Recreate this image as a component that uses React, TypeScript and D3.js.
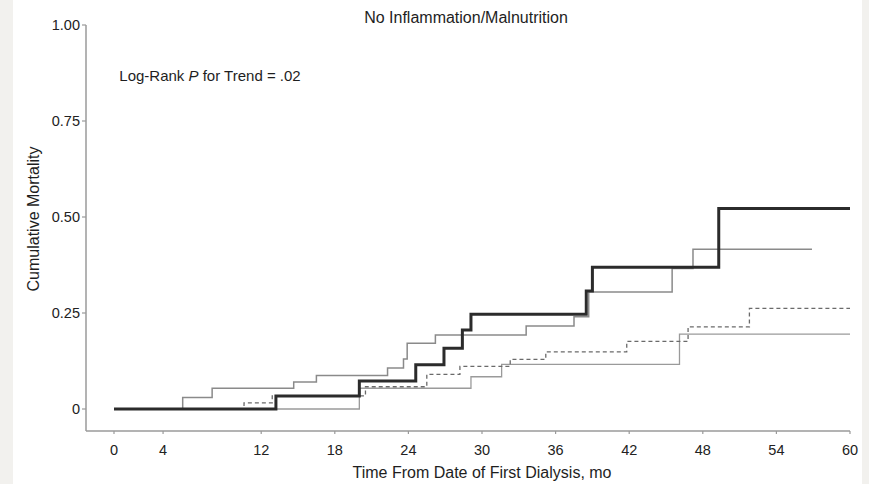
import React from "react";
import * as d3 from "d3";

const title = "No Inflammation/Malnutrition";
const annotation = ["Log-Rank ", "P", " for Trend = .02"];
const xTitle = "Time From Date of First Dialysis, mo";
const yTitle = "Cumulative Mortality";

const xTicks = [0, 4, 12, 18, 24, 30, 36, 42, 48, 54, 60];
const yTicks = [0, 0.25, 0.5, 0.75, 1.0];
const yTickLabels = ["0", "0.25", "0.50", "0.75", "1.00"];

// Step curves: event times (months) and cumulative mortality after each step
const blackTimes = [0, 13.2, 20.0, 24.6, 26.9, 28.4, 29.1, 38.5, 39.0, 49.3, 60];
const blackValues = [0, 0.034, 0.073, 0.115, 0.158, 0.206, 0.247, 0.307, 0.369, 0.522, 0.522];

const upperTimes = [0, 5.6, 8.0, 14.65, 16.5, 22.3, 23.6, 23.9, 26.2, 33.6, 37.5, 38.7, 45.5, 47.2, 56.9];
const upperValues = [0, 0.030, 0.054, 0.070, 0.087, 0.107, 0.13, 0.171, 0.193, 0.216, 0.240, 0.305, 0.366, 0.416, 0.416];

const dashedTimes = [0, 10.6, 12.9, 20.5, 25.5, 28.2, 32.3, 35.2, 41.8, 46.8, 51.8, 60];
const dashedValues = [0, 0.016, 0.034, 0.058, 0.090, 0.111, 0.129, 0.149, 0.176, 0.214, 0.262, 0.262];

const lowerTimes = [0, 20.0, 29.1, 31.6, 46.1, 60];
const lowerValues = [0, 0.054, 0.084, 0.116, 0.195, 0.195];

const FONT = "'Liberation Sans', Arial, Helvetica, sans-serif";

export default function App() {
  const W = 869, H = 484;
  const x = d3.scaleLinear().domain([0, 60]).range([114, 850]);
  const y = d3.scaleLinear().domain([0, 1]).range([409, 25]);
  const axisX = 86;
  const axisY = 431;

  const line = d3
    .line<[number, number]>()
    .x((d) => x(d[0]))
    .y((d) => y(d[1]))
    .curve(d3.curveStepAfter);

  const mk = (t: number[], v: number[]) => line(t.map((tt, i) => [tt, v[i]] as [number, number])) || "";

  const series = [
    { d: mk(lowerTimes, lowerValues), stroke: "#9a9a9a", width: 1.3, dash: undefined as string | undefined },
    { d: mk(dashedTimes, dashedValues), stroke: "#6a6a6a", width: 1.3, dash: "4,3" },
    { d: mk(upperTimes, upperValues), stroke: "#8a8a8a", width: 1.5, dash: undefined },
    { d: mk(blackTimes, blackValues), stroke: "#2b2b2b", width: 3, dash: undefined },
  ];

  return (
    <svg
      width={W}
      height={H}
      style={{ position: "absolute", left: 0, top: 0, display: "block" }}
      fontFamily={FONT}
    >
      <rect x={0} y={0} width={W} height={H} fill="#f2f1ee" />
      <rect x={13} y={0} width={849} height={H} fill="#ffffff" />

      {/* axes */}
      <line x1={axisX} y1={y(1)} x2={axisX} y2={axisY} stroke="#9a9a9a" strokeWidth={1.5} />
      <line x1={axisX} y1={axisY} x2={x(60)} y2={axisY} stroke="#9a9a9a" strokeWidth={1.5} />
      {yTicks.map((t, i) => (
        <g key={"yt" + i}>
          <line x1={axisX - 4} x2={axisX} y1={y(t)} y2={y(t)} stroke="#9a9a9a" strokeWidth={1.2} />
          <text x={80} y={y(t) + 5} textAnchor="end" fontSize={14.5} fill="#222">
            {yTickLabels[i]}
          </text>
        </g>
      ))}
      {xTicks.map((t, i) => (
        <g key={"xt" + i}>
          <line x1={x(t)} x2={x(t)} y1={axisY} y2={axisY + 3} stroke="#9a9a9a" strokeWidth={1.2} />
          <text x={x(t)} y={455} textAnchor="middle" fontSize={14.5} fill="#222">
            {t}
          </text>
        </g>
      ))}

      {/* curves */}
      {series.map((s, i) => (
        <path
          key={"s" + i}
          d={s.d}
          fill="none"
          stroke={s.stroke}
          strokeWidth={s.width}
          strokeDasharray={s.dash}
        />
      ))}

      {/* texts */}
      <text x={466} y={23.3} textAnchor="middle" fontSize={16} fill="#1e1e1e">
        {title}
      </text>
      <text x={119.3} y={80.7} fontSize={15} fill="#1e1e1e">
        {annotation[0]}
        <tspan fontStyle="italic">{annotation[1]}</tspan>
        {annotation[2]}
      </text>
      <text x={482} y={478} textAnchor="middle" fontSize={16} fill="#1e1e1e">
        {xTitle}
      </text>
      <text transform="translate(39,219) rotate(-90)" textAnchor="middle" fontSize={16} fill="#1e1e1e">
        {yTitle}
      </text>
    </svg>
  );
}
